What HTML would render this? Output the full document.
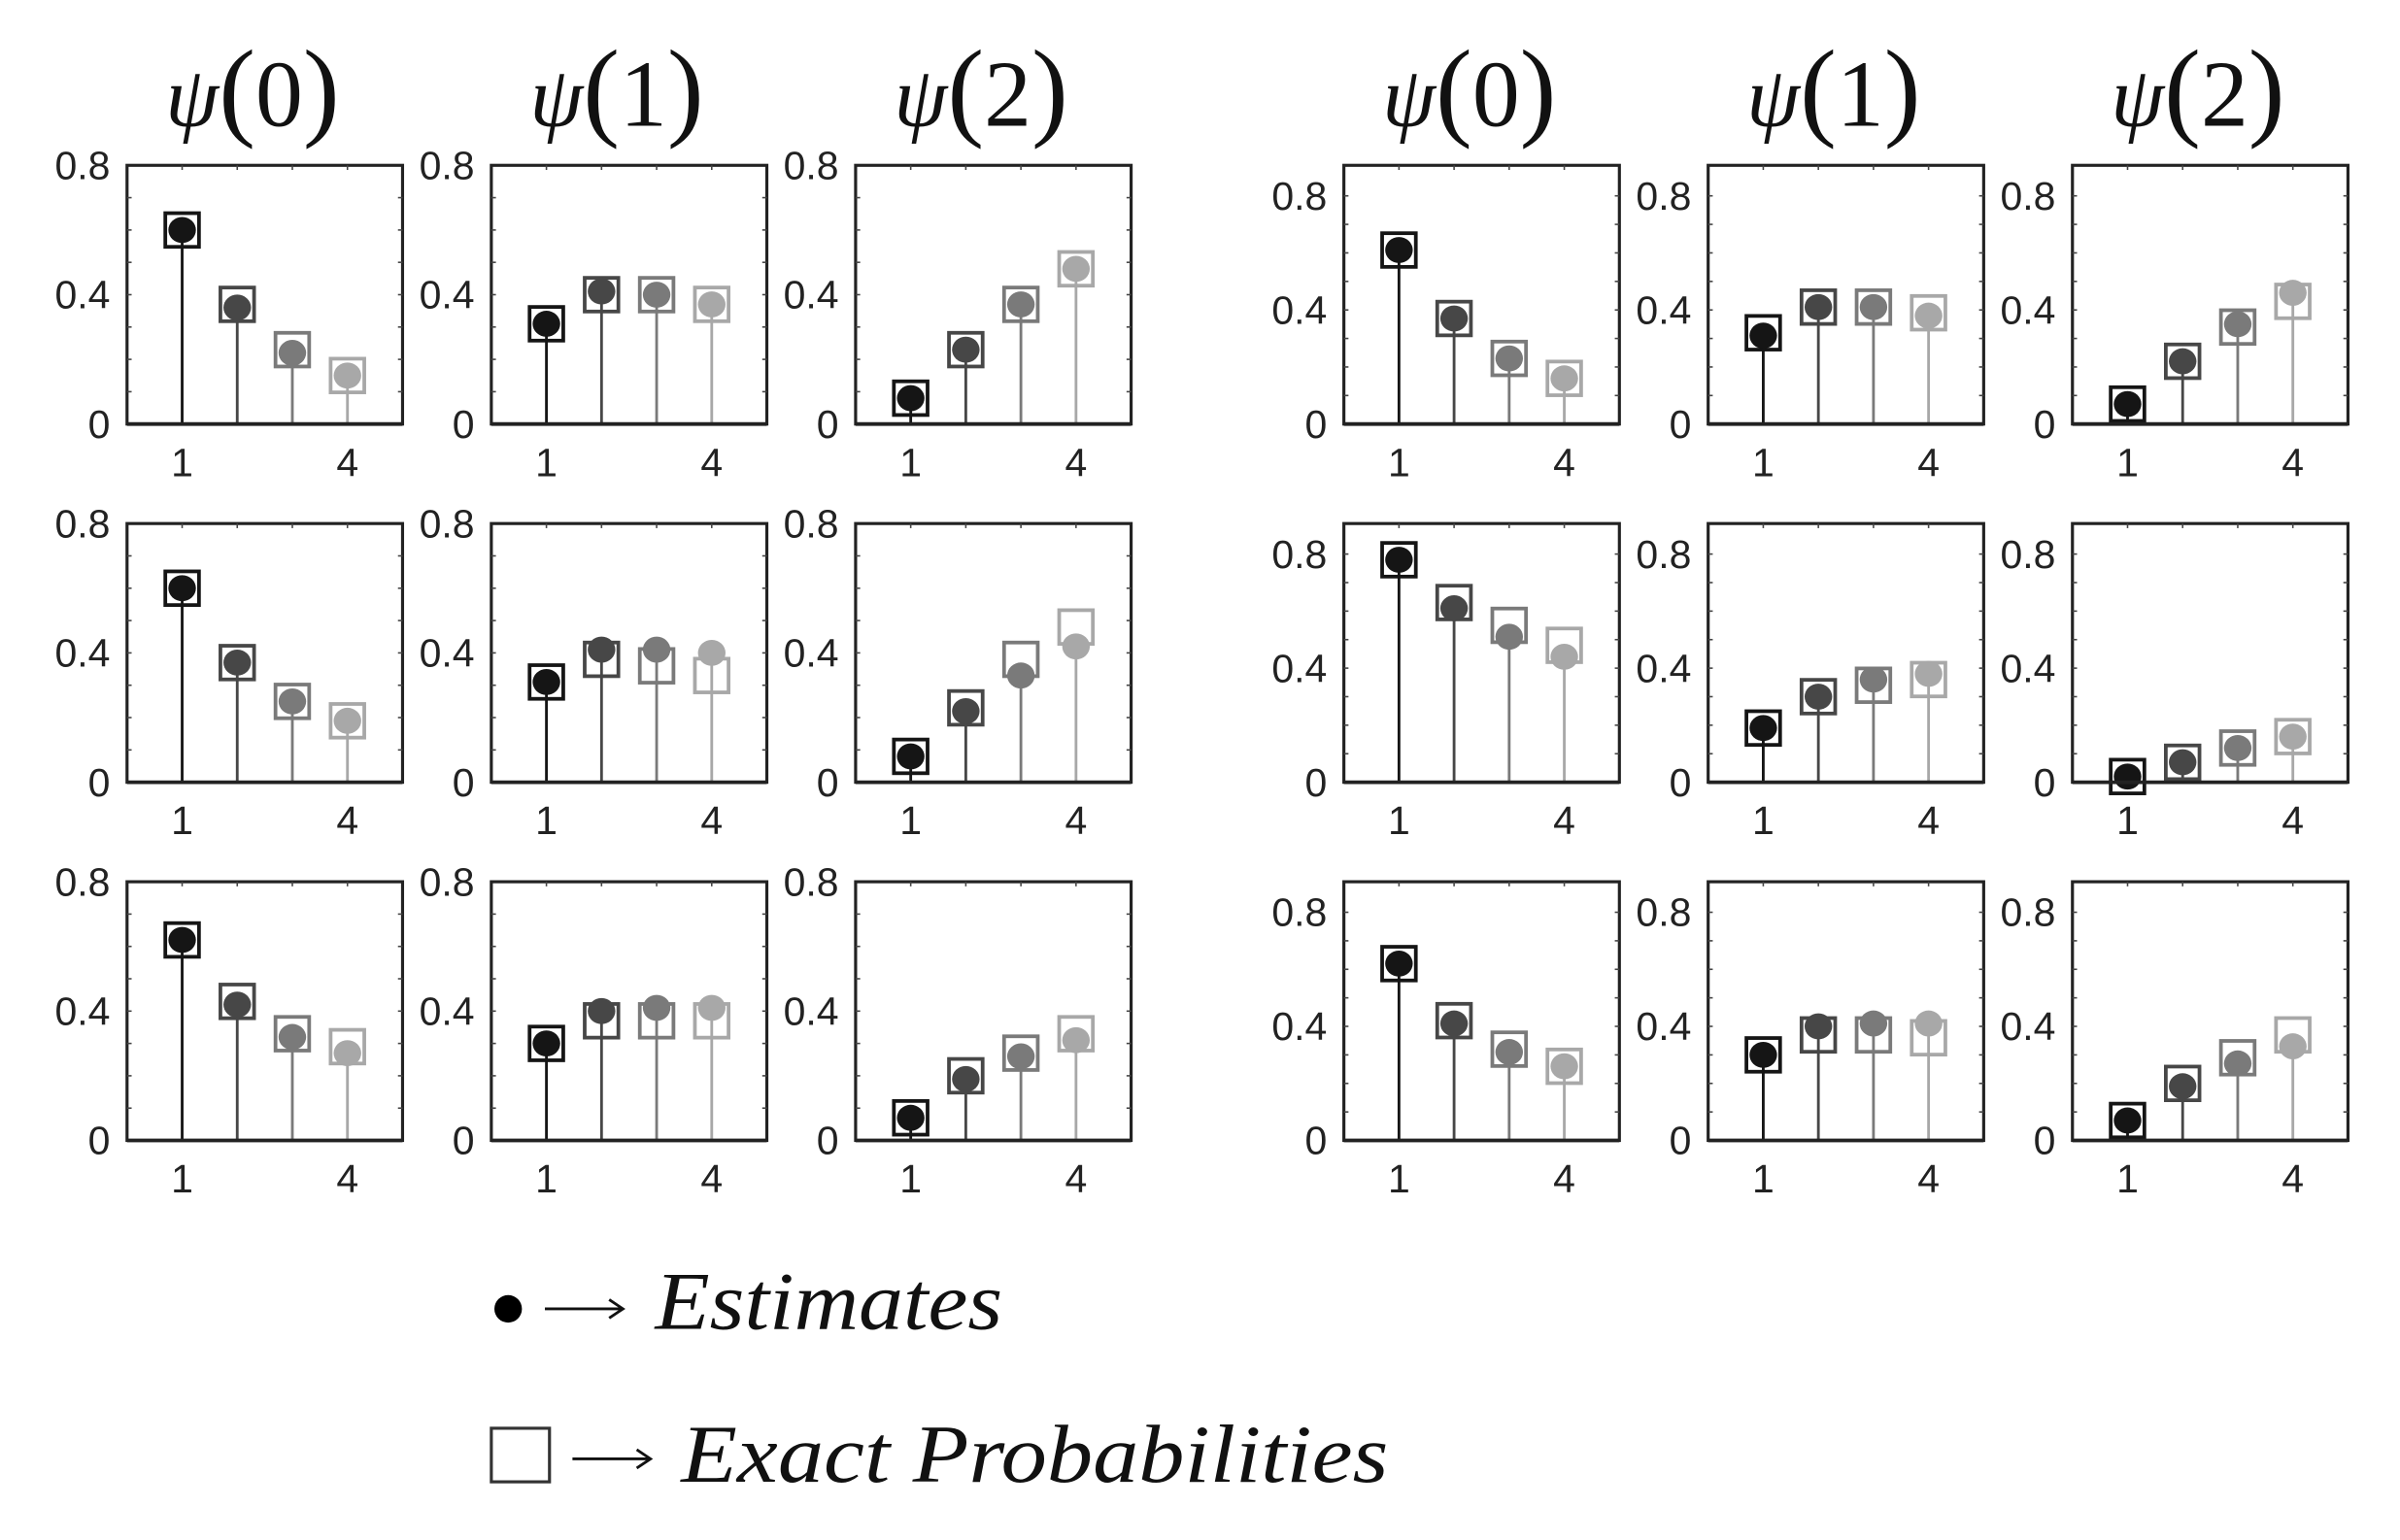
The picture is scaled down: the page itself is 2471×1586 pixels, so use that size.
<!DOCTYPE html>
<html><head><meta charset="utf-8"><style>
html,body{margin:0;padding:0;background:#fff;}
svg{display:block;}
</style></head><body>
<svg id="fig" xmlns="http://www.w3.org/2000/svg" width="2471" height="1586" viewBox="0 0 1568 1006" preserveAspectRatio="none">
<rect x="0" y="0" width="1568" height="1006" fill="#fff"/>
</svg>
<script>
// ---- data ----
const categories = [1, 2, 3, 4];
const titleArgs = ["0", "1", "2"];
const xTickLabels = ["1", "4"];
const xTickValues = [1, 4];
const leftYTicks = [0, 0.4, 0.8];
const rightYTicks = [0, 0.4, 0.8];
const L_est = [
 [[0.60,0.36,0.22,0.15],[0.31,0.41,0.40,0.37],[0.08,0.23,0.37,0.48]],
 [[0.60,0.37,0.25,0.19],[0.31,0.41,0.41,0.40],[0.08,0.22,0.33,0.42]],
 [[0.62,0.42,0.32,0.27],[0.30,0.40,0.41,0.41],[0.07,0.19,0.26,0.31]]
];
const L_exact = [
 [[0.60,0.37,0.23,0.15],[0.31,0.40,0.40,0.37],[0.08,0.23,0.37,0.48]],
 [[0.60,0.37,0.25,0.19],[0.31,0.38,0.36,0.33],[0.08,0.23,0.38,0.48]],
 [[0.62,0.43,0.33,0.29],[0.30,0.37,0.37,0.37],[0.07,0.20,0.27,0.33]]
];
const R_est = [
 [[0.61,0.37,0.23,0.16],[0.31,0.41,0.41,0.38],[0.07,0.22,0.35,0.46]],
 [[0.78,0.61,0.51,0.44],[0.19,0.30,0.36,0.38],[0.02,0.07,0.12,0.16]],
 [[0.62,0.41,0.31,0.26],[0.30,0.40,0.41,0.41],[0.07,0.19,0.27,0.33]]
];
const R_exact = [
 [[0.61,0.37,0.23,0.16],[0.32,0.41,0.41,0.39],[0.07,0.22,0.34,0.43]],
 [[0.78,0.63,0.55,0.48],[0.19,0.30,0.34,0.36],[0.02,0.07,0.12,0.16]],
 [[0.62,0.42,0.32,0.26],[0.30,0.37,0.37,0.36],[0.07,0.20,0.29,0.37]]
];

const NS = "http://www.w3.org/2000/svg";
const svg = document.getElementById('fig');
const colors = ["#151515","#474747","#7a7a7a","#a8a8a8"];
function mk(tag, attrs, parent){
  const e = document.createElementNS(NS, tag);
  for (const k in attrs) e.setAttribute(k, attrs[k]);
  (parent||svg).appendChild(e);
  return e;
}
const PW = 180, PH = 169;
const leftX = [83, 321, 559], rightX = [878, 1116, 1354];
const rowY = [108, 342, 576];

function panel(x0, y0, ymax, est, exact, yTicks, name){
  const g = mk('g', {});
  
  
  const xs = v => x0 + v / 5 * PW;
  const ys = v => y0 + PH - v / ymax * PH;
  const fr = mk('rect', {x:x0, y:y0, width:PW, height:PH, fill:'none', stroke:'#222', 'stroke-width':2}, g);
  
  
  for (let i=1;i<5;i++){
    mk('line',{x1:xs(i),x2:xs(i),y1:y0,y2:y0+3,stroke:'#444','stroke-width':1},g);
  }
  for (let v=0.1; v<ymax-0.01; v+=0.1){
    mk('line',{x1:x0,x2:x0+3,y1:ys(v),y2:ys(v),stroke:'#444','stroke-width':1},g);
    mk('line',{x1:x0+PW-3,x2:x0+PW,y1:ys(v),y2:ys(v),stroke:'#444','stroke-width':1},g);
  }
  yTicks.forEach(t=>{
    const tx = mk('text',{x:x0-11,y:ys(t)+9,'text-anchor':'end','font-family':'Liberation Sans, sans-serif','font-size':26,fill:'#222'},g);
    tx.textContent = String(t);
    
    
  });
  xTickValues.forEach((t,i)=>{
    const tx = mk('text',{x:xs(t),y:y0+PH+34,'text-anchor':'middle','font-family':'Liberation Sans, sans-serif','font-size':26,fill:'#222'},g);
    tx.textContent = xTickLabels[i];
    
    
  });
  categories.forEach((c,i)=>{
    const st = mk('line',{x1:xs(c),x2:xs(c),y1:ys(0),y2:ys(est[i]),stroke:colors[i],'stroke-width':1.8},g);
    
    
    const sq = mk('rect',{x:xs(c)-11,y:ys(exact[i])-11,width:22,height:22,fill:'none',stroke:colors[i],'stroke-width':2.4},g);
    
    
    const dt = mk('ellipse',{cx:xs(c),cy:ys(est[i]),rx:9,ry:8.5,fill:colors[i]},g);
    
    
  });
  mk('line',{x1:x0,x2:x0+PW,y1:ys(0),y2:ys(0),stroke:'#222','stroke-width':2.4},g);
}

for (let r=0;r<3;r++) for (let c=0;c<3;c++){
  panel(leftX[c], rowY[r], 0.8, L_est[r][c], L_exact[r][c], leftYTicks, 'left-panel-r'+(r+1)+'-c'+(c+1));
  panel(rightX[c], rowY[r], 0.907, R_est[r][c], R_exact[r][c], rightYTicks, 'right-panel-r'+(r+1)+'-c'+(c+1));
}
// titles
[leftX, rightX].forEach((arr)=>{
  arr.forEach((x,i)=>{
    const t = mk('text',{x:x+PW/2-8,y:82,'text-anchor':'middle','font-family':'Liberation Serif, serif','font-size':62,fill:'#111'});
    const s1 = mk('tspan',{'font-style':'italic','font-size':56},t); s1.textContent='ψ';
    const s2 = mk('tspan',{'font-size':72,'font-weight':'lighter'},t); s2.textContent='(';
    const s3 = mk('tspan',{},t); s3.textContent=titleArgs[i];
    const s4 = mk('tspan',{'font-size':72},t); s4.textContent=')';
    
    
  });
});
// legend
const lg = mk('g',{});


mk('circle',{cx:332,cy:855,r:9,fill:'#000'},lg);
mk('line',{x1:356,x2:406,y1:855,y2:855,stroke:'#111','stroke-width':1.8},lg);
mk('path',{d:'M398,849 L407,855 L398,861',fill:'none',stroke:'#111','stroke-width':1.8},lg);
const t1 = mk('text',{x:428,y:868,'font-family':'Liberation Serif, serif','font-style':'italic','font-size':54,fill:'#111',textLength:227,lengthAdjust:'spacingAndGlyphs'},lg);
t1.textContent='Estimates';


mk('rect',{x:321,y:933,width:38,height:35,fill:'none',stroke:'#333','stroke-width':2},lg);
mk('line',{x1:374,x2:424,y1:953,y2:953,stroke:'#111','stroke-width':1.8},lg);
mk('path',{d:'M416,947 L425,953 L416,959',fill:'none',stroke:'#111','stroke-width':1.8},lg);
const t2 = mk('text',{x:445,y:968,'font-family':'Liberation Serif, serif','font-style':'italic','font-size':54,fill:'#111',textLength:462,lengthAdjust:'spacingAndGlyphs'},lg);
t2.textContent='Exact Probabilities';


</script>
</body></html>
